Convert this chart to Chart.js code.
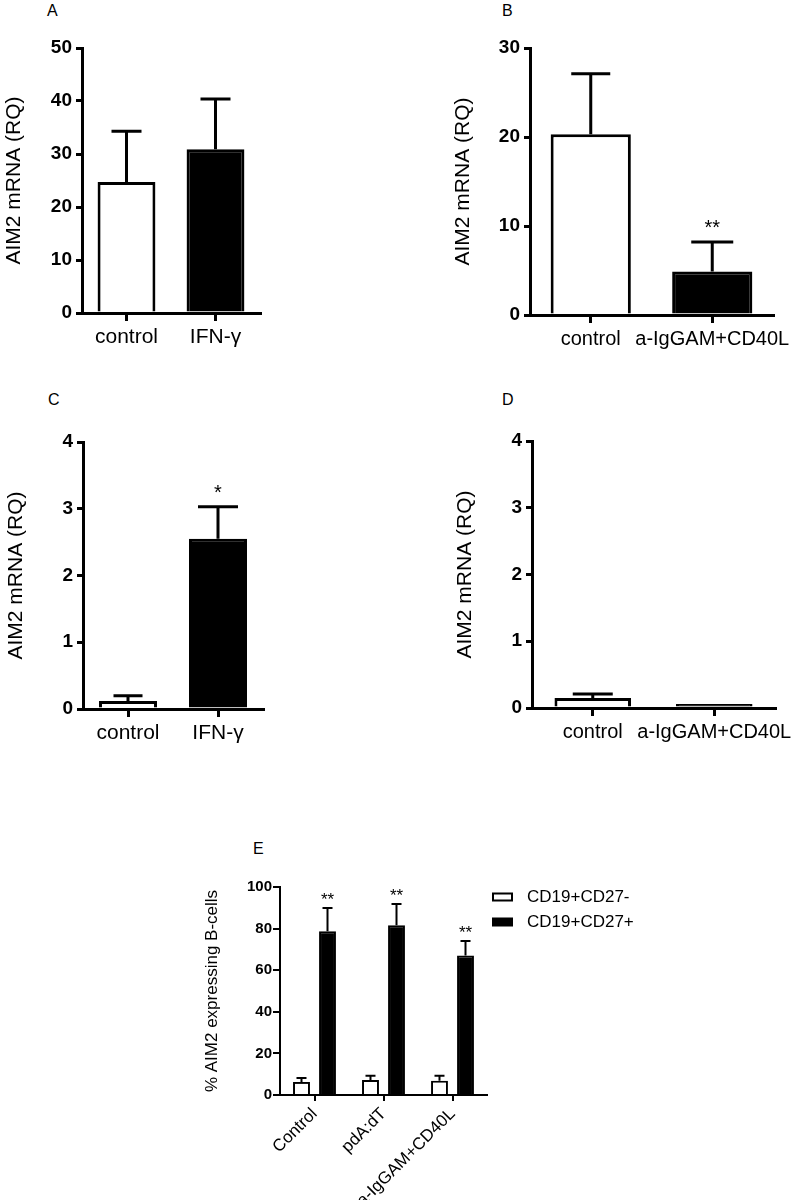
<!DOCTYPE html>
<html>
<head>
<meta charset="utf-8">
<script src="https://cdn.jsdelivr.net/npm/chart.js@4.4.0/dist/chart.umd.min.js"></script>
<style>
  body { margin: 0; background: #fff; width: 792px; height: 1200px; position: relative; overflow: hidden; font-family: 'Liberation Sans', Arial, sans-serif; }
  canvas { position: absolute; }
  .panel { position: absolute; font-size: 16px; line-height: 16px; color: #000; }
</style>
</head>
<body>
<div class="panel" style="left:47px; top:3px;">A</div>
<div class="panel" style="left:502px; top:3px;">B</div>
<div class="panel" style="left:48px; top:392px;">C</div>
<div class="panel" style="left:502px; top:392px;">D</div>
<div class="panel" style="left:253px; top:841px;">E</div>

<canvas id="chartA" width="280" height="360" style="left:0px; top:0px;"></canvas>
<canvas id="chartB" width="342" height="362" style="left:450px; top:0px;"></canvas>
<canvas id="chartC" width="280" height="380" style="left:0px; top:380px;"></canvas>
<canvas id="chartD" width="342" height="380" style="left:450px; top:380px;"></canvas>
<canvas id="chartE" width="592" height="360" style="left:200px; top:840px;"></canvas>

<script>
// values (mean, upper error = SEM)
const catsA = ['control', 'IFN-γ'];
const valsA = [24.7, 30.9];
const errA = [9.6, 9.5];
const starsA = ['', ''];

const catsB = ['control', 'a-IgGAM+CD40L'];
const valsB = [20.3, 4.9];
const errB = [6.8, 3.3];
const starsB = ['', '**'];

const catsC = ['control', 'IFN-γ'];
const valsC = [0.12, 2.55];
const errC = [0.08, 0.48];
const starsC = ['', '*'];

const catsD = ['control', 'a-IgGAM+CD40L'];
const valsD = [0.15, 0.06];
const errD = [0.06, 0];
const starsD = ['', ''];

const catsE = ['Control', 'pdA:dT', 'a-IgGAM+CD40L'];
const seriesE = ['CD19+CD27-', 'CD19+CD27+'];
const negE = [6.3, 7.2, 6.8];
const negErrE = [1.9, 2.0, 2.4];
const posE = [78.7, 81.6, 67.1];
const posErrE = [11.2, 10.2, 6.9];
const starsE = ['**', '**', '**'];

const FONT = "'Liberation Sans', Arial, sans-serif";
Chart.defaults.font.family = FONT;
Chart.defaults.color = '#000';

// one sided error bars + significance stars
const errorBars = {
    id: 'errorBars',
    afterDatasetsDraw(chart, args, opts) {
        const ctx = chart.ctx;
        const yScale = chart.scales.y;
        chart.data.datasets.forEach((ds, di) => {
            if (!ds.errors) return;
            const meta = chart.getDatasetMeta(di);
            meta.data.forEach((bar, i) => {
                const yv = yScale.getPixelForValue(ds.data[i]);
                const ye = yScale.getPixelForValue(ds.data[i] + ds.errors[i]);
                const cap = Array.isArray(opts.capWidth) ? opts.capWidth[i] : opts.capWidth;
                ctx.save();
                ctx.strokeStyle = '#000';
                ctx.lineWidth = opts.lineWidth;
                if (ds.errors[i] > 0) {
                    ctx.beginPath();
                    ctx.moveTo(bar.x, yv);
                    ctx.lineTo(bar.x, ye);
                    ctx.moveTo(bar.x - cap / 2, ye);
                    ctx.lineTo(bar.x + cap / 2, ye);
                    ctx.stroke();
                }
                if (ds.stars && ds.stars[i]) {
                    ctx.fillStyle = '#000';
                    ctx.font = opts.starSize + 'px ' + FONT;
                    ctx.textAlign = 'center';
                    ctx.textBaseline = 'alphabetic';
                    ctx.fillText(ds.stars[i], bar.x, ye - opts.starGap);
                }
                ctx.restore();
            });
        });
    }
};

// legend beside the top of the plot area (the built-in one gets squeezed by the layout)
const sideLegend = {
    id: 'sideLegend',
    afterDraw(chart, args, opts) {
        if (!opts.show) return;
        const ctx = chart.ctx;
        const area = chart.chartArea;
        const items = Chart.defaults.plugins.legend.labels.generateLabels(chart);
        ctx.save();
        ctx.font = opts.size + 'px ' + FONT;
        ctx.textBaseline = 'middle';
        ctx.textAlign = 'left';
        items.forEach((it, i) => {
            const x = area.right + opts.gap;
            const y = area.top + opts.first + i * opts.step;
            ctx.fillStyle = it.fillStyle;
            ctx.fillRect(x, y - opts.boxH / 2, opts.boxW, opts.boxH);
            ctx.strokeStyle = it.strokeStyle;
            ctx.lineWidth = it.lineWidth;
            ctx.strokeRect(x, y - opts.boxH / 2, opts.boxW, opts.boxH);
            ctx.fillStyle = '#000';
            ctx.fillText(it.text, x + opts.boxW + opts.textGap, y);
        });
        ctx.restore();
    }
};

function bar_chart(id, cats, datasets, cfg) {
    return new Chart(document.getElementById(id), {
        type: 'bar',
        data: { labels: cats, datasets: datasets },
        plugins: [errorBars, sideLegend],
        options: {
            responsive: false,
            animation: false,
            layout: { padding: { top: cfg.top, left: 0, right: cfg.right, bottom: 0 } },
            plugins: {
                legend: { display: false },
                tooltip: { enabled: false },
                errorBars: { lineWidth: cfg.line, capWidth: cfg.cap, starSize: cfg.starSize, starGap: cfg.starGap },
                sideLegend: cfg.legend || { show: false }
            },
            scales: {
                x: {
                    offset: true,
                    grid: { display: true, offset: false, drawOnChartArea: false, drawTicks: true, tickLength: cfg.xTick, lineWidth: cfg.line, color: '#000' },
                    border: { display: true, width: cfg.line, color: '#000' },
                    ticks: { font: { size: cfg.catSize }, color: '#000', autoSkip: false, minRotation: cfg.rot, maxRotation: cfg.rot, padding: cfg.catPad },
                    afterFit: (s) => { s.height = cfg.xHeight; s.paddingLeft = 0; s.paddingRight = 0; }
                },
                y: {
                    min: 0,
                    max: cfg.max,
                    grid: { display: true, drawOnChartArea: false, drawTicks: true, tickLength: cfg.yTick, lineWidth: cfg.line, color: '#000' },
                    border: { display: true, width: cfg.line, color: '#000' },
                    ticks: { stepSize: cfg.step, font: { size: cfg.tickSize, weight: 'bold' }, color: '#000', padding: cfg.tickPad },
                    title: { display: true, text: cfg.yTitle, font: { size: cfg.titleSize }, color: '#000', padding: { top: cfg.titlePad, bottom: 0 } },
                    afterFit: (s) => { s.width = cfg.yWidth; s.paddingTop = 0; s.paddingBottom = 0; }
                }
            }
        }
    });
}

function single_set(vals, errs, stars, barPct) {
    return [{
        data: vals,
        errors: errs,
        stars: stars,
        backgroundColor: ['#fff', '#000'],
        borderColor: '#000',
        borderWidth: 3,
        borderSkipped: 'start',
        categoryPercentage: 1,
        barPercentage: barPct
    }];
}

const panelBase = {
    line: 3, xTick: 8, yTick: 6, rot: 0, catPad: 4,
    tickSize: 19, tickPad: 4, titleSize: 21, yTitle: 'AIM2 mRNA (RQ)',
    starSize: 20, starGap: 8
};

bar_chart('chartA', catsA, single_set(valsA, errA, starsA, 0.65),
    Object.assign({}, panelBase, { catSize: 21, top: 48, right: 20, xHeight: 47, yWidth: 82, max: 50, step: 10, cap: [30, 30], titlePad: 2 }));

bar_chart('chartB', catsB, single_set(valsB, errB, starsB, 0.66),
    Object.assign({}, panelBase, { catSize: 20, top: 48, right: 19, xHeight: 47, yWidth: 80, max: 30, step: 10, cap: [39, 42], titlePad: 1 }));

bar_chart('chartC', catsC, single_set(valsC, errC, starsC, 0.645),
    Object.assign({}, panelBase, { catSize: 21, top: 62, right: 17, xHeight: 51, yWidth: 83, max: 4, step: 1, cap: [29, 40], titlePad: 4 }));

bar_chart('chartD', catsD, single_set(valsD, errD, starsD, 0.63),
    Object.assign({}, panelBase, { catSize: 20, top: 61, right: 17, xHeight: 52, yWidth: 82, max: 4, step: 1, cap: [40, 40], titlePad: 3 }));

bar_chart('chartE', catsE, [
    {
        label: seriesE[0], data: negE, errors: negErrE,
        backgroundColor: '#fff', borderColor: '#000', borderWidth: 2, borderSkipped: 'start',
        categoryPercentage: 0.754, barPercentage: 0.65
    },
    {
        label: seriesE[1], data: posE, errors: posErrE, stars: starsE,
        backgroundColor: '#000', borderColor: '#000', borderWidth: 2, borderSkipped: 'start',
        categoryPercentage: 0.754, barPercentage: 0.65
    }
], {
    line: 2, xTick: 6, yTick: 7, rot: 45, catSize: 17, catPad: 3,
    tickSize: 15, tickPad: 1, titleSize: 17, yTitle: '% AIM2 expressing B-cells', titlePad: 2,
    starSize: 17, starGap: 3, cap: 10,
    top: 47, right: 305, xHeight: 105, yWidth: 80, max: 100, step: 20,
    legend: { show: true, gap: 6, first: 10, step: 25, boxW: 19, boxH: 7, textGap: 15, size: 17 }
});
</script>
</body>
</html>
